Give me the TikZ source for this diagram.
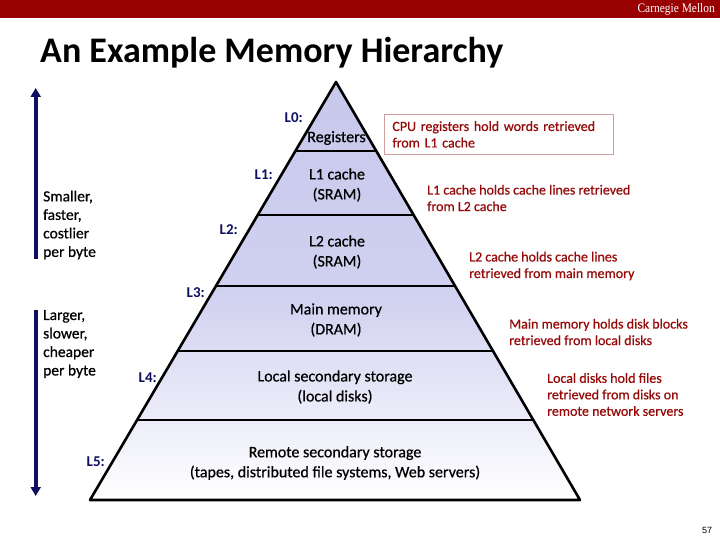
\documentclass[tikz,border=0pt]{standalone}
\usepackage{fontspec}
\setmainfont{Carlito}
\newfontfamily\heavy{Carlito}[BoldFont=Carlito, BoldFeatures={FakeBold=0.6}]
\newfontfamily\cmufont{Liberation Serif}
\newfontfamily\numfont{Liberation Sans}
\usetikzlibrary{calc,arrows.meta}
\definecolor{cmured}{RGB}{153,0,0}
\definecolor{navy}{RGB}{16,16,96}
\definecolor{txtred}{RGB}{150,10,10}
\definecolor{lav}{RGB}{200,200,236}
\definecolor{lavmid}{RGB}{208,208,240}
\definecolor{boxline}{RGB}{205,160,160}
\begin{document}
\begin{tikzpicture}[x=1pt,y=-1pt,
  lvl/.style={font=\heavy\bfseries\fontsize{16}{20}\selectfont, align=center, inner sep=0pt},
  lab/.style={font=\bfseries\fontsize{15}{18}\selectfont, text=navy, anchor=east, inner sep=0pt},
  note/.style={font=\heavy\bfseries\fontsize{14}{16.5}\selectfont, text=txtred, align=left, anchor=west, inner sep=0pt},
  side/.style={font=\heavy\bfseries\fontsize{15.5}{18.5}\selectfont, align=left, anchor=west, inner sep=0pt},
  edge/.style={line width=2.6pt, line join=round},
  sidearrow/.style={line width=4pt, draw=navy, -{Triangle[width=10pt,length=9pt]}}
]
\useasboundingbox (0,0) rectangle (720,540);
\fill[white] (0,0) rectangle (720,540);
\fill[cmured] (0,0) rectangle (720,18);
\node[anchor=east, text=white, font=\cmufont\fontsize{13}{13}\selectfont, inner sep=0pt] (cmu) at (715,9) {\scalebox{0.88}[1]{Carnegie Mellon}};
\node[anchor=base west, font=\bfseries\fontsize{36}{40}\selectfont, inner sep=0pt] (title) at (40,63) {An Example Memory Hierarchy};

\coordinate (apex) at (336,82);
\coordinate (bl) at (90,500);
\coordinate (br) at (580,500);
\shade[top color=lav, bottom color=white, middle color=lavmid] (apex) -- (bl) -- (br) -- cycle;
\foreach \t in {0.1651,0.3182,0.4880,0.6435,0.8086} {
  \draw[edge] ($(apex)!\t!(bl)$) -- ($(apex)!\t!(br)$);
}
\draw[edge] (apex) -- (bl) -- (br) -- cycle;

\node[lvl] (reg) at (336.5,138) {Registers};
\node[lvl] (l1) at (337,185) {L1 cache\\(SRAM)};
\node[lvl] (l2) at (337,252) {L2 cache\\(SRAM)};
\node[lvl] (mm) at (336,320) {Main memory\\(DRAM)};
\node[lvl] (ls) at (335,387) {Local secondary storage\\(local disks)};
\node[lvl] (rs) at (335,463) {Remote secondary storage\\(tapes, distributed file systems, Web servers)};

\node[lab] (L0) at (303,118) {L0:};
\node[lab] (L1) at (273,175) {L1:};
\node[lab] (L2) at (238,230) {L2:};
\node[lab] (L3) at (205,293) {L3:};
\node[lab] (L4) at (157,378) {L4:};
\node[lab] (L5) at (105,462) {L5:};

\node[note, draw=boxline, line width=0.8pt, anchor=north west, text width=213pt, inner xsep=8pt, minimum width=229pt, minimum height=40pt] (n0) at (384,114) {CPU registers hold words retrieved\\from L1 cache};
\node[note] (n1) at (427,198) {L1 cache holds cache lines retrieved\\from L2 cache};
\node[note] (n2) at (469,266) {L2 cache holds cache lines\\retrieved from main memory};
\node[note] (n3) at (509,332) {Main memory holds disk blocks\\retrieved from local disks};
\node[note] (n4) at (547,394.5) {Local disks hold files\\retrieved from disks on\\remote network servers};

\node[side] (fast) at (43,225) {Smaller,\\faster,\\costlier\\per byte};
\node[side] (slow) at (43,344) {Larger,\\slower,\\cheaper\\per byte};
\coordinate (atop0) at (35.7,259);
\coordinate (atop1) at (35.7,88);
\coordinate (abot0) at (35.7,310);
\coordinate (abot1) at (35.7,496);
\draw[sidearrow] (atop0) -- (atop1);
\draw[sidearrow] (abot0) -- (abot1);

\node[font=\numfont\fontsize{9}{9}\selectfont, inner sep=0pt] (pg) at (707,530) {57};
\end{tikzpicture}
\end{document}
